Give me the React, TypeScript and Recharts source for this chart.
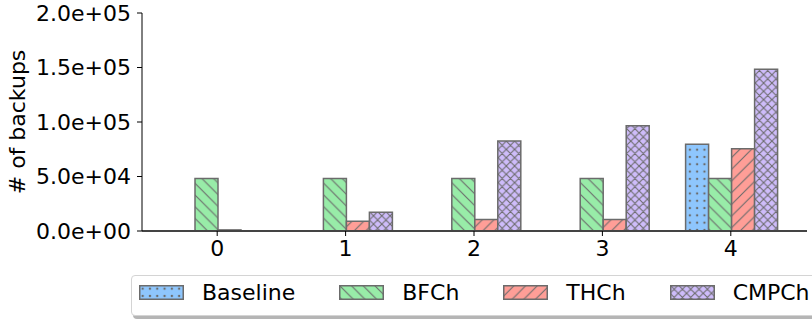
import React from "react";
import { BarChart, Bar, XAxis, YAxis } from "recharts";

const groups = ["0", "1", "2", "3", "4"];
const baseline = [0, 0, 0, 0, 79500];
const bfch = [48200, 48200, 48200, 48200, 48200];
const thch = [1000, 8900, 10500, 10500, 75400];
const cmpch = [0, 17200, 82500, 96600, 148500];
const yTicks = [0, 50000, 100000, 150000, 200000];

const series = [
  { key: "Baseline", values: baseline, pattern: "hatch-dots" },
  { key: "BFCh", values: bfch, pattern: "hatch-back" },
  { key: "THCh", values: thch, pattern: "hatch-fwd" },
  { key: "CMPCh", values: cmpch, pattern: "hatch-cross" },
];

const data = groups.map((g, i) => {
  const row: Record<string, string | number> = { g };
  series.forEach((s) => (row[s.key] = s.values[i]));
  return row;
});

const FONT = "'DejaVu Sans', sans-serif";
const EDGE = "#6b6b6b";

// matplotlib style "2.0e+05"
const sci = (v: number) => {
  const [m, e] = v.toExponential(1).split("e");
  const n = Number(e);
  return `${m}e${n < 0 ? "-" : "+"}${String(Math.abs(n)).padStart(2, "0")}`;
};

function Patterns() {
  const s1 = 11.7;
  const s2 = 8.3;
  const d = 7.3;
  return (
    <svg width={0} height={0} style={{ position: "absolute" }}>
      <defs>
        <pattern id="hatch-dots" width={d} height={d} patternUnits="userSpaceOnUse">
          <rect width={d} height={d} fill="#8ec6fd" />
          <circle cx={d / 2} cy={d / 2} r={1.2} fill={EDGE} />
        </pattern>
        <pattern id="hatch-back" width={s1} height={s1} patternUnits="userSpaceOnUse">
          <rect width={s1} height={s1} fill="#98eca8" />
          <path
            d={`M0,0 L${s1},${s1} M-2,${s1 - 2} L2,${s1 + 2} M${s1 - 2},-2 L${s1 + 2},2`}
            stroke={EDGE}
            strokeWidth={1.1}
          />
        </pattern>
        <pattern id="hatch-fwd" width={s1} height={s1} patternUnits="userSpaceOnUse">
          <rect width={s1} height={s1} fill="#ff9e97" />
          <path
            d={`M0,${s1} L${s1},0 M-2,2 L2,-2 M${s1 - 2},${s1 + 2} L${s1 + 2},${s1 - 2}`}
            stroke={EDGE}
            strokeWidth={1.1}
          />
        </pattern>
        <pattern id="hatch-cross" width={s2} height={s2} patternUnits="userSpaceOnUse">
          <rect width={s2} height={s2} fill="#cebcfa" />
          <path
            d={`M0,0 L${s2},${s2} M-2,${s2 - 2} L2,${s2 + 2} M${s2 - 2},-2 L${s2 + 2},2 M0,${s2} L${s2},0 M-2,2 L2,-2 M${s2 - 2},${s2 + 2} L${s2 + 2},${s2 - 2}`}
            stroke={EDGE}
            strokeWidth={1.1}
          />
        </pattern>
      </defs>
    </svg>
  );
}

function LegendBox() {
  return (
    <div
      style={{
        position: "absolute",
        left: 131,
        top: 275,
        width: 720,
        height: 41,
        boxSizing: "border-box",
        border: "1px solid #d4d4d4",
        borderRadius: 4,
        background: "#fff",
        boxShadow: "2px 3px 0 #b5b5b5",
        display: "flex",
        alignItems: "center",
        paddingLeft: 7,
        paddingBottom: 6,
        fontFamily: FONT,
        fontSize: 22,
        color: "#000",
      }}
    >
      {series.map((s) => (
        <div key={s.key} style={{ display: "flex", alignItems: "center", marginRight: 44 }}>
          <svg width={45} height={15} style={{ marginRight: 18, display: "block" }}>
            <rect x={0.75} y={0.75} width={43.5} height={13.5} fill={`url(#${s.pattern})`} stroke={EDGE} strokeWidth={1.5} />
          </svg>
          <span style={{ whiteSpace: "nowrap" }}>{s.key}</span>
        </div>
      ))}
    </div>
  );
}

export default function App() {
  return (
    <div style={{ position: "absolute", left: 0, top: 0, width: 812, height: 320, background: "#fff" }}>
      <Patterns />
      <BarChart
        width={812}
        height={320}
        data={data}
        margin={{ top: 13, right: 5, left: 82, bottom: 59 }}
        barCategoryGap={19}
        barGap={0}
      >
        <XAxis
          dataKey="g"
          height={30}
          padding={{ left: 11, right: 12 }}
          tickSize={5}
          tickMargin={4}
          axisLine={{ stroke: "#444", strokeWidth: 2 }}
          tickLine={{ stroke: "#000" }}
          tick={{ fontFamily: FONT, fontSize: 22, fill: "#000" }}
        />
        <YAxis
          width={60}
          domain={[0, 200000]}
          ticks={yTicks}
          tickFormatter={sci}
          tickSize={5}
          tickMargin={6}
          axisLine={{ stroke: "#000" }}
          tickLine={{ stroke: "#000" }}
          tick={{ fontFamily: FONT, fontSize: 22, fill: "#000" }}
          label={() => (
            <text
              transform="translate(25,122) rotate(-90)"
              textAnchor="middle"
              fontFamily={FONT}
              fontSize={22}
              fill="#000"
            >
              # of backups
            </text>
          )}
        />
        {series.map((s) => (
          <Bar
            key={s.key}
            dataKey={s.key}
            fill={`url(#${s.pattern})`}
            stroke={EDGE}
            strokeWidth={1.5}
            isAnimationActive={false}
          />
        ))}
      </BarChart>
      <LegendBox />
    </div>
  );
}
